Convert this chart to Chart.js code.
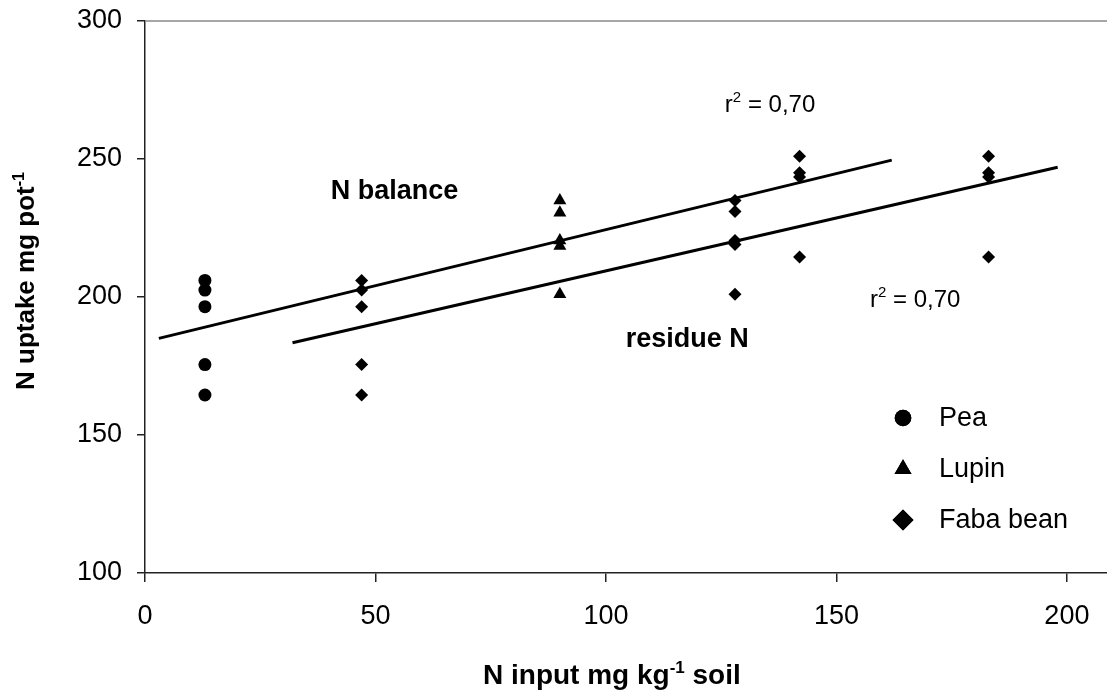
<!DOCTYPE html>
<html>
<head>
<meta charset="utf-8">
<script src="https://cdn.jsdelivr.net/npm/chart.js@4/dist/chart.umd.min.js"></script>
<style>
  html, body { margin: 0; padding: 0; background: #fff; }
  #wrap { width: 1107px; height: 692px; }
</style>
</head>
<body>
<div id="wrap"><canvas id="chart"></canvas></div>
<script>
// ── Data ──
const xTicks = [0, 50, 100, 150, 200];
const yTicks = [100, 150, 200, 250, 300];

const peaX   = [13, 13, 13, 13, 13];
const peaY   = [206, 202.5, 196.5, 175.5, 164.5];
const lupinX = [90, 90, 90, 90, 90];
const lupinY = [235, 230.5, 220.5, 218.5, 201];
const fabaX  = [47, 47, 47, 47, 47, 128, 128, 128, 128, 128, 142, 142, 142, 142, 183, 183, 183, 183];
const fabaY  = [206, 202.5, 196.5, 175.5, 164.5, 235, 231, 220.5, 219, 201, 251, 245, 243.5, 214.5, 251, 245, 243.5, 214.5];

// regression lines (end points)
const balanceX = [3, 162];
const balanceY = [185, 249.6];
const residueX = [32, 198];
const residueY = [183.4, 247];

const FONT = '"Liberation Sans", Arial, sans-serif';

function pts(xs, ys) {
  return xs.map((x, i) => ({ x, y: ys[i] }));
}

// draw text with optional superscript parts
function richText(ctx, parts, x, y, size, bold) {
  let cx = x;
  parts.forEach((p) => {
    const s = p.sup ? Math.round(size * 0.62) : size;
    ctx.font = `${bold ? 'bold ' : ''}${s}px ${FONT}`;
    ctx.fillText(p.t, cx, p.sup ? y - size * 0.4 : y);
    cx += ctx.measureText(p.t).width;
  });
}

const decorPlugin = {
  id: 'decor',
  afterDraw(chart) {
    const { ctx, chartArea, scales } = chart;
    const sx = scales.x, sy = scales.y;
    ctx.save();

    // top frame line
    ctx.strokeStyle = '#888';
    ctx.lineWidth = 1.5;
    ctx.beginPath();
    ctx.moveTo(chartArea.left, chartArea.top);
    ctx.lineTo(chartArea.right, chartArea.top);
    ctx.stroke();

    ctx.fillStyle = '#000';
    ctx.textAlign = 'left';
    ctx.textBaseline = 'alphabetic';

    // annotations (anchored in data space)
    richText(ctx, [{ t: 'r' }, { t: '2', sup: true }, { t: ' = 0,70' }], sx.getPixelForValue(125.8), sy.getPixelForValue(267), 24, false);
    richText(ctx, [{ t: 'r' }, { t: '2', sup: true }, { t: ' = 0,70' }], sx.getPixelForValue(157.3), sy.getPixelForValue(196.4), 24, false);
    richText(ctx, [{ t: 'N balance' }], sx.getPixelForValue(40.3), sy.getPixelForValue(235.5), 27, true);
    richText(ctx, [{ t: 'residue N' }], sx.getPixelForValue(104.3), sy.getPixelForValue(182), 27, true);

    // x axis title
    richText(ctx, [{ t: 'N input mg kg' }, { t: '-1', sup: true }, { t: ' soil' }], 483, 684, 28, true);

    // y axis title
    ctx.save();
    ctx.translate(34, 390);
    ctx.rotate(-Math.PI / 2);
    richText(ctx, [{ t: 'N uptake mg pot' }, { t: '-1', sup: true }], 0, 0, 26, true);
    ctx.restore();

    // legend
    const legendX = 903, textX = 939;
    const rows = [
      { ds: 0, y: 418, r: 8.3 },
      { ds: 1, y: 469, r: 9.8 },
      { ds: 2, y: 520, r: 10.5 },
    ];
    ctx.textBaseline = 'middle';
    rows.forEach((row) => {
      const ds = chart.data.datasets[row.ds];
      ctx.fillStyle = '#000';
      Chart.helpers.drawPoint(ctx, { pointStyle: ds.pointStyle, radius: row.r, rotation: 0, borderWidth: 0 }, legendX, row.y);
      ctx.fill();
      ctx.font = `27px ${FONT}`;
      ctx.fillText(ds.label, textX, row.y + 1);
    });

    ctx.restore();
  },
};

new Chart(document.getElementById('chart'), {
  type: 'scatter',
  data: {
    datasets: [
      { label: 'Pea', data: pts(peaX, peaY), pointStyle: 'circle', pointRadius: 6.5, backgroundColor: '#000', borderWidth: 0 },
      { label: 'Lupin', data: pts(lupinX, lupinY), pointStyle: 'triangle', pointRadius: 7.5, backgroundColor: '#000', borderWidth: 0 },
      { label: 'Faba bean', data: pts(fabaX, fabaY), pointStyle: 'rectRot', pointRadius: 6.5, backgroundColor: '#000', borderWidth: 0 },
      { label: 'N balance', data: pts(balanceX, balanceY), showLine: true, pointRadius: 0, borderColor: '#000', borderWidth: 3 },
      { label: 'residue N', data: pts(residueX, residueY), showLine: true, pointRadius: 0, borderColor: '#000', borderWidth: 3 },
    ],
  },
  options: {
    responsive: true,
    maintainAspectRatio: false,
    animation: false,
    layout: { autoPadding: false, padding: { top: 21, right: 0, left: 0, bottom: 0 } },
    plugins: { legend: { display: false }, tooltip: { enabled: false } },
    scales: {
      x: {
        type: 'linear',
        min: 0,
        max: 208.7,
        afterFit: (scale) => { scale.height = 119; scale.paddingLeft = 0; scale.paddingRight = 0; },
        afterBuildTicks: (scale) => { scale.ticks = xTicks.map((v) => ({ value: v })); },
        ticks: { color: '#000', font: { family: FONT, size: 27 }, padding: 18, maxRotation: 0 },
        grid: { drawOnChartArea: false, drawTicks: true, tickLength: 9, color: '#222', lineWidth: 1.5 },
        border: { color: '#222', width: 1.5 },
      },
      y: {
        type: 'linear',
        min: 100,
        max: 300,
        afterFit: (scale) => { scale.width = 145; scale.paddingTop = 0; scale.paddingBottom = 0; },
        afterBuildTicks: (scale) => { scale.ticks = yTicks.map((v) => ({ value: v })); },
        ticks: { color: '#000', font: { family: FONT, size: 27 }, padding: 15 },
        grid: { drawOnChartArea: false, drawTicks: true, tickLength: 8, color: '#222', lineWidth: 1.5 },
        border: { color: '#222', width: 1.5 },
      },
    },
  },
  plugins: [decorPlugin],
});
</script>
</body>
</html>
